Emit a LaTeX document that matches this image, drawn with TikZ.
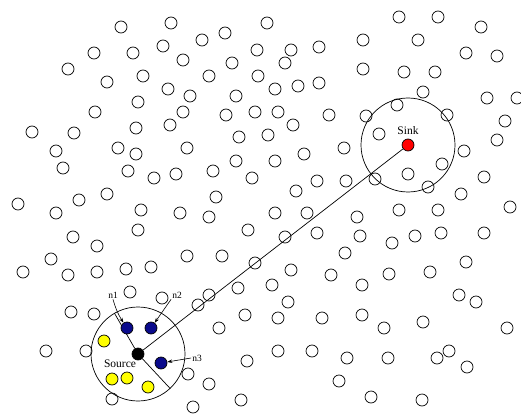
\documentclass[tikz,border=0pt]{standalone}
\usepackage{fontspec}
\setmainfont{Liberation Serif}
\usetikzlibrary{arrows.meta}
\definecolor{headblue}{HTML}{0A0A8C}
\definecolor{memberyellow}{HTML}{FFFF00}
\definecolor{sinkred}{HTML}{FF0000}

\begin{document}
\begin{tikzpicture}[
  x=1pt, y=-1pt,
  font=\fontsize{11.5}{13}\selectfont,
  sensor/.style={circle, draw, line width=0.7pt, minimum size=12pt, inner sep=0pt},
  chosen/.style={sensor, fill=headblue},
  member/.style={sensor, fill=memberyellow},
  cover/.style={circle, draw, line width=0.7pt, minimum size=94pt, inner sep=0pt},
  tag/.style={font=\fontsize{9.5}{11}\selectfont, inner sep=1pt},
  pointer/.style={-{Stealth[length=5pt, width=3.5pt]}, line width=0.6pt},
  link/.style={line width=0.7pt}
]
\useasboundingbox (0,0) rectangle (521,414);

\foreach \x/\y [count=\i] in {
  121/27, 171/23, 94/53, 133/53, 163/46, 68/69, 107/82, 143/76, 168/89, 138/102,
  95/112, 32/132, 74/133, 136/128, 170/125, 267/23, 202/40, 225/33, 257/50, 291/50,
  319/47, 183/60, 232/63, 285/63, 209/76, 258/76, 275/89, 298/86, 319/83, 190/96,
  236/96, 183/112, 226/115, 255/112, 278/112, 329/115, 293/125, 239/137, 268/135, 399/17,
  438/17, 481/27, 363/40, 418/40, 466/53, 497/56, 363/69, 404/72, 435/72, 423/92,
  487/98, 517/98, 397/105, 366/116, 447/115, 505/121, 379/134, 497/140,
  56/151, 118/148, 136/154, 63/168, 128/171, 154/178, 176/174, 18/204, 79/200, 107/194,
  56/213, 141/210, 138/230, 73/237, 97/246, 51/259, 23/272, 68/275, 97/272, 126/269,
  151/267, 187/148, 344/148, 236/161, 275/161, 304/154, 213/171, 252/178, 317/181, 296/191,
  346/181, 216/197, 180/213, 209/217, 275/213, 307/213, 248/230, 285/237, 317/233, 187/256,
  222/256, 255/263, 345/253, 291/270, 331/275, 464/151, 442/164, 408/174, 375/179, 428/187,
  484/177, 461/194, 510/207, 357/217, 399/210, 438/210, 360/236, 392/243, 415/236, 441/233,
  484/233, 389/274, 430/272, 466/262,
  130/292, 162/298, 71/312, 94/314, 46/351, 86/351, 112/399, 209/295, 198/305, 238/288,
  272/285, 288/302, 245/315, 278/318, 322/318, 219/328, 247/361, 278/351, 312/351, 188/374,
  209/384, 193/407, 241/400, 362/285, 459/295, 476/302, 362/315, 384/328, 423/322, 507/328,
  347/358, 388/358, 437/358, 449/351, 467/367, 339/381, 371/397, 422/400}
  \node[sensor] (s\i) at (\x,\y) {};

% source cluster
\node[cover] (srccover) at (138,354) {};
\node[cover] (sinkcover) at (408,145) {};
\node[sensor, fill=black] (source) at (138,354) {};
\node[sensor, fill=sinkred] (sink) at (408,145) {};
\node[anchor=south] (sinklabel) at (408,138) {Sink};
\node (srclabel) at (120,364) {Source};

\draw[link] (source) -- (sink);
\draw[link] (source) -- (srccover.120);
\draw[link] (source) -- (srccover.-47);

\node[chosen] (head1) at (127,328) {};
\node[chosen] (head2) at (151,328) {};
\node[chosen] (head3) at (161,363) {};
\foreach \x/\y [count=\i] in {104/341, 112/379, 127/378, 148/387}
  \node[member] (m\i) at (\x,\y) {};

\node[tag] (lab1) at (113,295) {n1};
\node[tag] (lab2) at (177,295) {n2};
\node[tag] (lab3) at (197,358) {n3};
\draw[pointer] (lab1.south) to[bend right=8] (head1);
\draw[pointer] (lab2.south west) -- (head2);
\draw[pointer] (lab3.west) -- (head3);
\end{tikzpicture}
\end{document}
